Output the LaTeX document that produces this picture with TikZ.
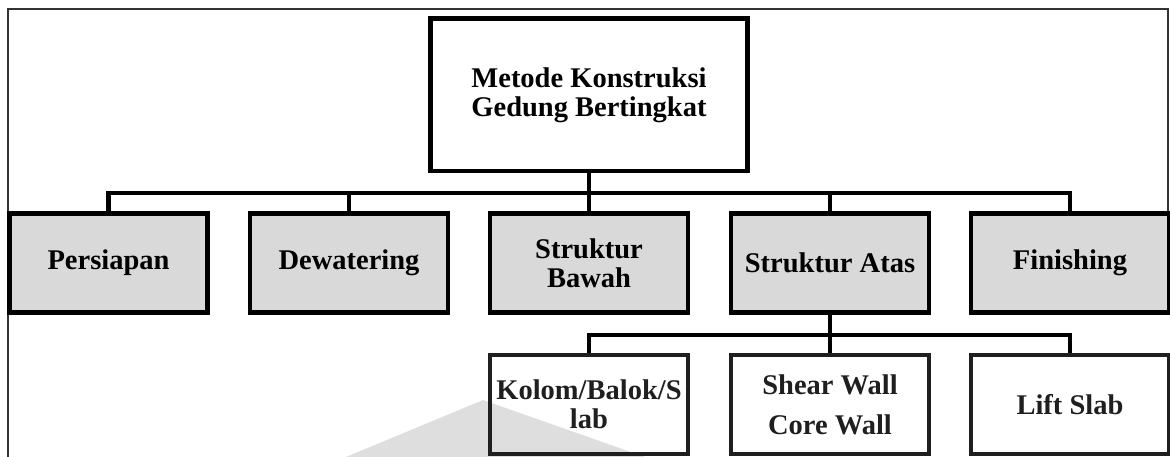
\documentclass[tikz,border=0pt]{standalone}
\usepackage{fontspec}
\setmainfont{Liberation Serif}
\definecolor{boxgray}{RGB}{217,217,217}
\definecolor{markgray}{RGB}{222,222,222}
\begin{document}
\begin{tikzpicture}[x=1pt,y=-1pt,
  box/.style={draw=black, line width=4.5pt, rectangle, inner sep=0pt,
    align=center, line join=miter,
    font=\bfseries\fontsize{28.5}{29}\selectfont},
  mainbox/.style={box, fill=white, minimum width=317pt, minimum height=152.5pt},
  phase/.style={box, fill=boxgray, minimum width=198pt, minimum height=98.5pt},
  method/.style={box, draw=black!88, text=black!88, minimum width=198pt, minimum height=99pt},
  link/.style={line width=4.5pt, line join=miter},
  frame/.style={line width=1.8pt, draw=black!80}]

\useasboundingbox (0,0) rectangle (1170,457);

% page frame
\draw[frame] (8,457) -- (8,9) -- (1168,9) -- (1168,214);

% faint watermark shape behind the lower row
\fill[markgray] (346,457) -- (483,400) -- (645,457) -- cycle;

% root
\node[mainbox] (root) at (589,95) {Metode Konstruksi\\Gedung Bertingkat};

% phases
\node[phase] (prep)  at (108.5,263) {\raisebox{-2pt}{Persiapan}};
\node[phase] (dewat) at (349,263)   {\raisebox{-2pt}{Dewatering}};
\node[phase] (lower) at (589,263)   {\fontsize{28.5}{30}\selectfont Struktur\\Bawah};
\node[phase] (upper) at (830,263)   {\raisebox{-2pt}{Struktur Atas}};
\node[phase] (finish) at (1070,263) {\raisebox{-2pt}{Finishing}};

% upper-structure methods
\node[method] (kolom) at (589,404.5)  {\fontsize{28.5}{30}\selectfont Kolom/Balok/S\\lab};
\node[method] (shear) at (830,404.5)  {Shear Wall\\[11pt]Core Wall};
\node[method] (lift)  at (1070,404.5) {\raisebox{-9pt}{Lift Slab}};

% first-level connectors
\coordinate (bus1) at (589,193);
\draw[link] (root.south) -- (bus1);
\draw[link] (prep.north) |- (bus1);
\draw[link] (finish.north) |- (bus1);
\draw[link] (dewat.north) -- (dewat.north |- bus1);
\draw[link] (lower.north) -- (lower.north |- bus1);
\draw[link] (upper.north) -- (upper.north |- bus1);

% second-level connectors
\coordinate (bus2) at (830,335);
\draw[link] (upper.south) -- (shear.north);
\draw[link] (kolom.north) |- (bus2);
\draw[link] (lift.north) |- (bus2);

\end{tikzpicture}
\end{document}
